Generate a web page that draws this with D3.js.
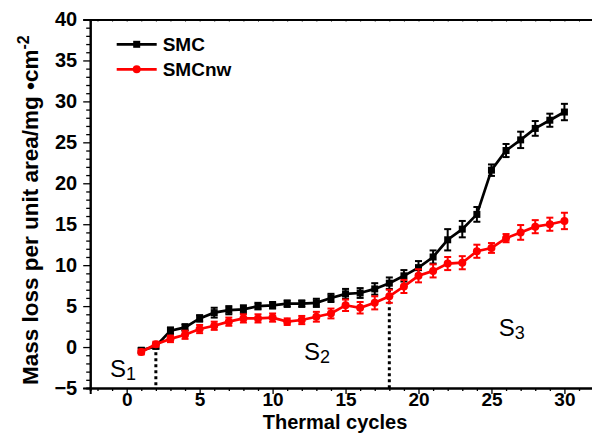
<!DOCTYPE html>
<html><head><meta charset="utf-8">
<script src="https://cdn.jsdelivr.net/npm/d3@7"></script>
<style>
body{margin:0;background:#fff;}
svg{display:block;}
text{font-family:"Liberation Sans",Arial,sans-serif;}
</style></head>
<body><svg id="c" width="592" height="445"></svg>
<script>
const cycles = d3.range(1, 31);
const smc = [-0.4,0.1,2.0,2.4,3.5,4.2,4.5,4.6,5.0,5.1,5.3,5.3,5.4,6.0,6.5,6.6,7.1,7.8,8.7,9.7,11.0,13.1,14.4,16.2,21.6,24.0,25.3,26.7,27.7,28.7];
const smcErr = [0.3,0.3,0.4,0.4,0.4,0.6,0.5,0.5,0.4,0.4,0.4,0.4,0.5,0.5,0.6,0.6,0.7,0.7,0.7,0.8,0.8,1.3,1.0,0.9,0.7,0.8,1.0,0.9,0.8,1.0];
const smcnw = [-0.6,0.35,1.0,1.5,2.2,2.6,3.1,3.5,3.5,3.6,3.1,3.3,3.7,4.1,5.1,4.8,5.4,6.2,7.4,8.7,9.3,10.2,10.3,11.7,12.1,13.3,14.0,14.7,15.0,15.4];
const smcnwErr = [0.3,0.3,0.4,0.5,0.5,0.5,0.5,0.5,0.5,0.5,0.4,0.5,0.6,0.6,0.7,0.7,0.8,0.8,0.8,0.8,0.8,0.8,0.8,0.8,0.6,0.5,0.9,0.8,0.8,1.0];
const xTicks = [0,5,10,15,20,25,30];
const yTicks = [-5,0,5,10,15,20,25,30,35,40];
const dividers = [2, 18];
const stages = [{label:"S", sub:"1", x:-1.15, y:-3.65},{label:"S", sub:"2", x:12.15, y:-1.56},{label:"S", sub:"3", x:25.5, y:1.37}];
const seriesNames = ["SMC","SMCnw"];

const svg = d3.select("#c");
const x = d3.scaleLinear().domain([-2.5, 32.5]).range([90.2, 600.9]);
const y = d3.scaleLinear().domain([-5, 40]).range([388, 19.5]);

const xMinor = d3.range(-2, 33).filter(v => v % 5 !== 0);
const yMinor = d3.range(-4, 40).filter(v => v % 5 !== 0);

const gx = svg.append("g").attr("transform", "translate(0,388)");
gx.call(d3.axisBottom(x).tickValues(xMinor).tickSize(3).tickFormat(""));
gx.append("g").call(d3.axisBottom(x).tickValues(xTicks).tickSize(6).tickPadding(1).tickFormat(d3.format("d")));
gx.selectAll("path").attr("stroke-width", 2);
gx.selectAll("line").attr("stroke-width", 1.3);
gx.selectAll("text").attr("font-size", 19).attr("font-weight", "bold").attr("fill", "#000")
  .attr("dy", null).attr("y", 18);

const gt = svg.append("g").attr("transform", "translate(0,19.5)");
gt.call(d3.axisTop(x).tickValues(d3.range(-2, 33)).tickSize(-2).tickFormat(""));
gt.selectAll("path").attr("stroke-width", 2);
gt.selectAll("line").attr("stroke-width", 1);

const gy = svg.append("g").attr("transform", "translate(90.2,0)");
gy.call(d3.axisLeft(y).tickValues(yMinor).tickSize(4).tickFormat(""));
gy.append("g").call(d3.axisLeft(y).tickValues(yTicks).tickSize(7).tickPadding(6).tickFormat(d3.format("d")));
gy.selectAll("path").attr("stroke-width", 2);
gy.selectAll("line").attr("stroke-width", 1.3);
gy.selectAll("text").attr("font-size", 20).attr("font-weight", "bold").attr("fill", "#000");

// axis titles
svg.append("text").attr("x", 335).attr("y", 428.5).attr("text-anchor", "middle")
  .attr("font-size", 20).attr("font-weight", "bold").text("Thermal cycles");
const yt = svg.append("text").attr("transform", "translate(38,385) rotate(-90)")
  .attr("font-size", 22.5).attr("font-weight", "bold");
yt.append("tspan").text("Mass loss per unit area/mg \u2022cm");
yt.append("tspan").attr("dy", -9).attr("font-size", 16).text("-2");

// dividers
dividers.forEach(d => {
  const i = cycles.indexOf(d);
  svg.append("line").attr("x1", x(d)).attr("x2", x(d)).attr("y1", y(smc[i])).attr("y2", 388)
    .attr("stroke", "#000").attr("stroke-width", 3).attr("stroke-dasharray", "3,3");
});

// stage labels
stages.forEach(s => {
  const t = svg.append("text").attr("x", x(s.x)).attr("y", y(s.y))
    .attr("font-family", "Lato, 'Open Sans', sans-serif").attr("font-size", 24);
  t.append("tspan").text(s.label);
  t.append("tspan").attr("font-size", 18).attr("dy", 3).text(s.sub);
});

function drawSeries(vals, errs, color, shape) {
  const g = svg.append("g");
  const pts = cycles.map((c, i) => ({c, v: vals[i], e: errs[i]}));
  g.append("path").datum(pts)
    .attr("d", d3.line().x(d => x(d.c)).y(d => y(d.v)))
    .attr("fill", "none").attr("stroke", color).attr("stroke-width", 2.7);
  const eb = g.selectAll(".eb").data(pts).enter().append("g");
  eb.append("line").attr("x1", d => x(d.c)).attr("x2", d => x(d.c))
    .attr("y1", d => y(d.v - d.e)).attr("y2", d => y(d.v + d.e)).attr("stroke", color).attr("stroke-width", 2);
  [-1, 1].forEach(s => {
    eb.append("line").attr("x1", d => x(d.c) - 3.5).attr("x2", d => x(d.c) + 3.5)
      .attr("y1", d => y(d.v + s * d.e)).attr("y2", d => y(d.v + s * d.e)).attr("stroke", color).attr("stroke-width", 2);
  });
  if (shape === "square") {
    g.selectAll(".m").data(pts).enter().append("rect")
      .attr("x", d => x(d.c) - 3.5).attr("y", d => y(d.v) - 3.5).attr("width", 7).attr("height", 7).attr("fill", color);
  } else {
    g.selectAll(".m").data(pts).enter().append("circle")
      .attr("cx", d => x(d.c)).attr("cy", d => y(d.v)).attr("r", 4).attr("fill", color);
  }
}
drawSeries(smc, smcErr, "#000", "square");
drawSeries(smcnw, smcnwErr, "#ff0000", "circle");

// legend
const leg = [{name: seriesNames[0], color: "#000", shape: "square", y: 44.3},
             {name: seriesNames[1], color: "#ff0000", shape: "circle", y: 69.3}];
leg.forEach(l => {
  svg.append("line").attr("x1", 116.7).attr("x2", 156.7).attr("y1", l.y).attr("y2", l.y)
    .attr("stroke", l.color).attr("stroke-width", 2.7);
  if (l.shape === "square") svg.append("rect").attr("x", 133.2).attr("y", l.y - 3.5).attr("width", 7).attr("height", 7).attr("fill", l.color);
  else svg.append("circle").attr("cx", 136.7).attr("cy", l.y).attr("r", 4).attr("fill", l.color);
  svg.append("text").attr("x", 162.7).attr("y", l.y).attr("dy", "0.36em").attr("font-size", 19)
    .attr("font-weight", "bold").text(l.name);
});
</script></body></html>
